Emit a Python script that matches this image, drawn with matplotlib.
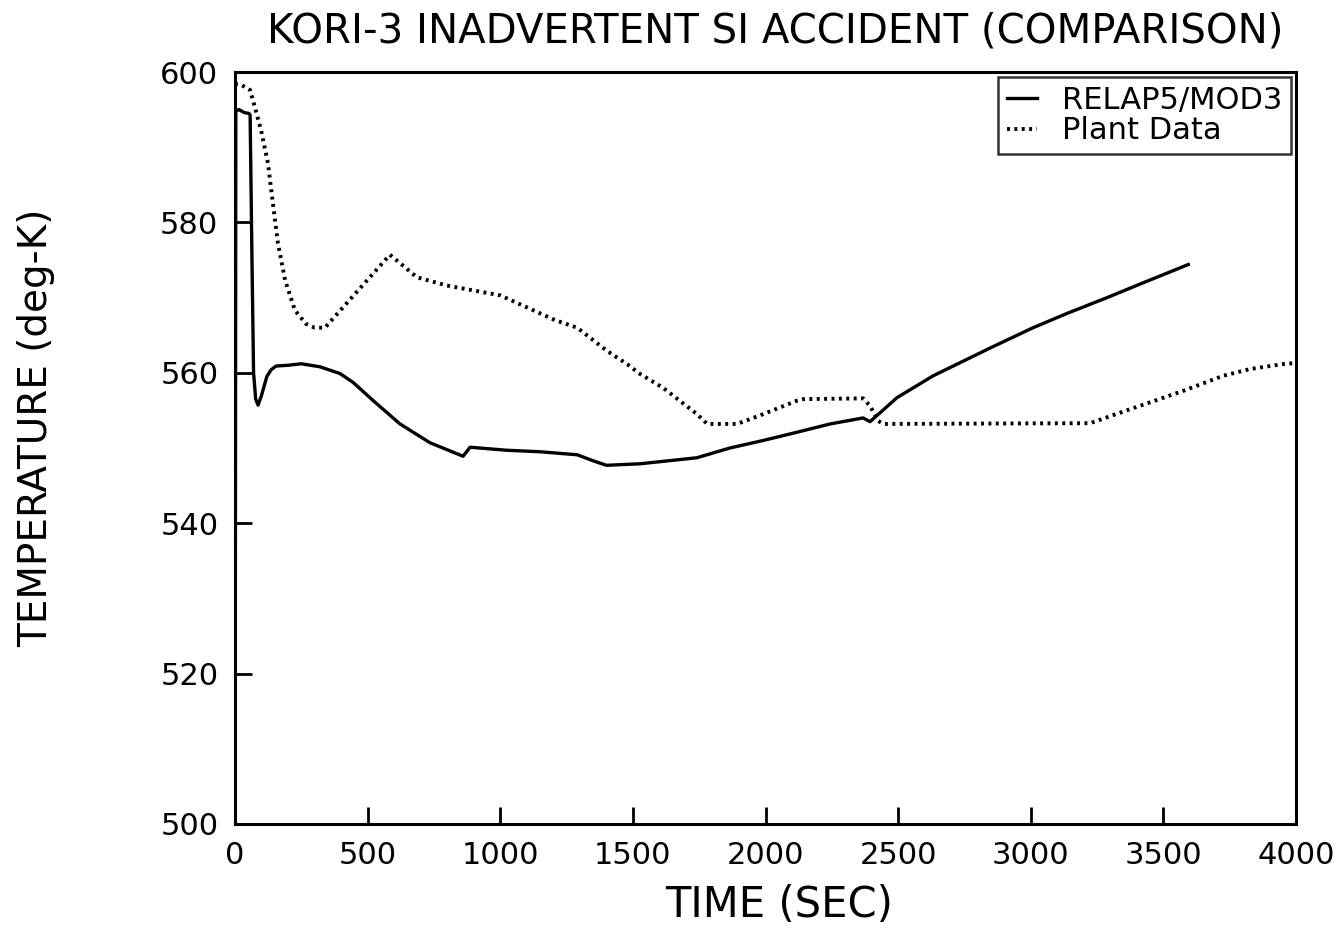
import matplotlib
matplotlib.use("Agg")
import matplotlib.pyplot as plt

# RELAP5/MOD3 calculation
relap_t = [0, 3, 15, 35, 52, 57, 64, 70, 78, 87, 100, 120, 136, 155, 200, 250, 320,
           396, 446, 521, 622, 735, 860, 886, 1025, 1150, 1290, 1350, 1400, 1527,
           1741, 1866, 1991, 2119, 2244, 2368, 2394, 2496, 2632, 2847, 3009, 3137,
           3288, 3412, 3594]
relap_T = [480, 594.8, 595.0, 594.6, 594.5, 594.3, 575, 560, 556.5, 555.7, 557, 559.5,
           560.4, 560.9, 561.0, 561.2, 560.8, 559.9, 558.7, 556.3, 553.2, 550.7,
           548.9, 550.1, 549.7, 549.5, 549.1, 548.3, 547.7, 547.9, 548.7, 550.0,
           551.0, 552.1, 553.2, 554.0, 553.5, 556.7, 559.6, 563.3, 566.0, 567.9,
           570.0, 571.8, 574.4]

# Plant data
plant_t = [0, 23, 57, 75, 98, 124, 143, 162, 189, 226, 268, 300, 339, 584, 686, 799,
           1000, 1207, 1290, 1403, 1489, 1520, 1614, 1742, 1780, 1893, 1991, 2119,
           2142, 2368, 2394, 2425, 2444, 3224, 3386, 3575, 3725, 3827, 3959, 4000]
plant_T = [598.4, 598.3, 597.6, 595.3, 592.3, 587.9, 582.5, 577.2, 572.3, 568.3, 566.5,
           566.0, 566.0, 575.7, 572.7, 571.6, 570.3, 567.0, 566.0, 562.9, 560.9,
           560.0, 558.0, 554.5, 553.2, 553.2, 554.5, 556.3, 556.5, 556.6, 555.6,
           553.6, 553.2, 553.3, 555.3, 557.6, 559.6, 560.5, 561.2, 561.3]

xticks = [0, 500, 1000, 1500, 2000, 2500, 3000, 3500, 4000]
yticks = [500, 520, 540, 560, 580, 600]

plt.rcParams['font.family'] = ['DejaVu Sans']

fig = plt.figure(figsize=(13.4, 9.47), dpi=100)
ax = fig.add_axes([235 / 1340, 1 - 824 / 947, (1296 - 235) / 1340, (824 - 72) / 947])

ax.plot(relap_t, relap_T, color='black', lw=2.4, label='RELAP5/MOD3')
ax.plot(plant_t, plant_T, color='black', lw=2.8, linestyle=(0, (0.75, 1.15)),
        label='Plant Data')

ax.set_xlim(0, 4000)
ax.set_ylim(500, 600)
ax.set_xticks(xticks)
ax.set_yticks(yticks)
ax.tick_params(direction='in', length=12, width=2, labelsize=22,
               top=False, right=False, pad=12)
for s in ax.spines.values():
    s.set_linewidth(2.2)

fig.text(775 / 1340, 1 - 32 / 947, 'KORI-3 INADVERTENT SI ACCIDENT (COMPARISON)',
         ha='center', va='center', fontsize=29)
fig.text(779 / 1340, 1 - 905 / 947, 'TIME (SEC)', ha='center', va='center', fontsize=30)
fig.text(36 / 1340, 1 - 428 / 947, 'TEMPERATURE (deg-K)', ha='center', va='center',
         rotation=90, fontsize=28)

leg = ax.legend(loc='upper right', fontsize=22, frameon=True, fancybox=False,
                handlelength=1.0, handletextpad=0.8, borderpad=0.3,
                labelspacing=0.05, borderaxespad=0.15, edgecolor='black')
leg.get_frame().set_linewidth(1.8)

fig.savefig('out.png', dpi=100, facecolor='white')
